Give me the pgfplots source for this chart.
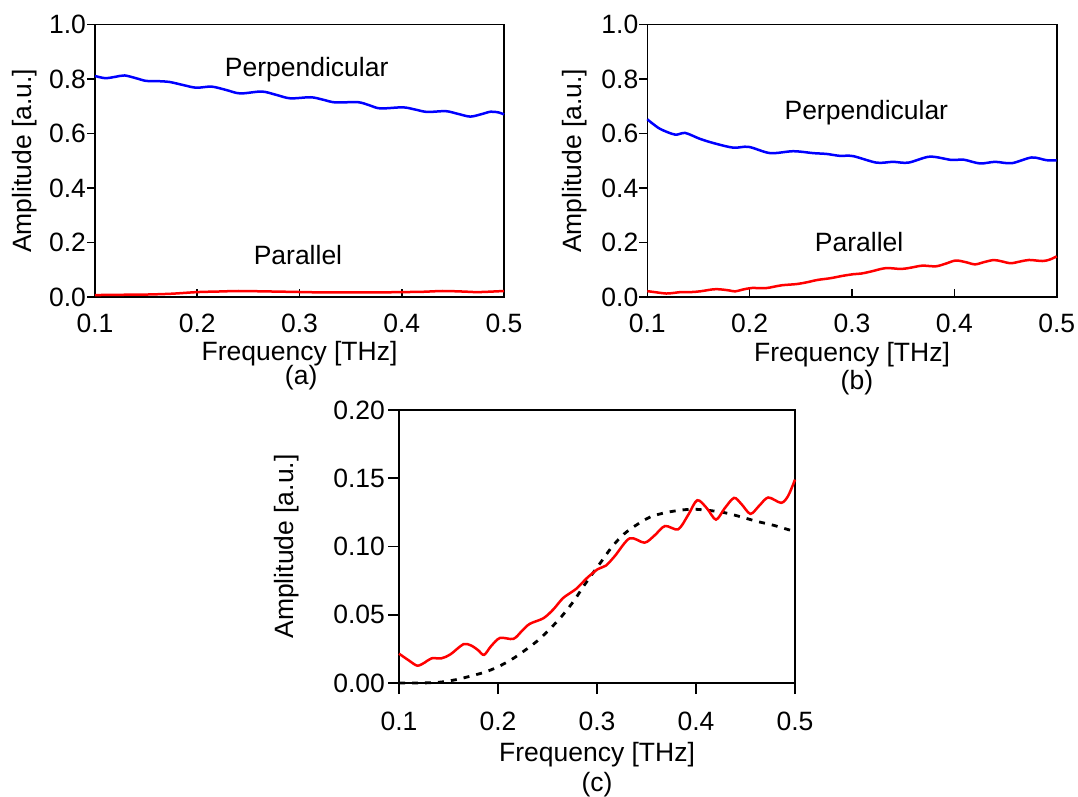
\documentclass[border=0pt]{standalone}
\usepackage{fontspec}
\setmainfont{Liberation Sans}
\usepackage{pgfplots}
\pgfplotsset{compat=1.18}
\pgfplotsset{
  basestyle/.style={
    scale only axis, anchor=south west, clip=false,
    xmin=0.1, xmax=0.5,
    xtick={0.1,0.2,0.3,0.4,0.5},
    tick pos=left,
    /pgf/number format/assume math mode=true,
    axis line style={line width=1.6pt},
    every tick/.style={black, line width=1.6pt},
    xticklabel style={/pgf/number format/fixed, /pgf/number format/fixed zerofill, /pgf/number format/precision=1},
    xlabel={Frequency [THz]},
    ylabel={Amplitude [a.u.]},
  },
  upperstyle/.style={
    basestyle, width=409pt, height=272.5pt,
    ymin=0, ymax=1, ytick={0,0.2,0.4,0.6,0.8,1.0},
    yticklabel style={/pgf/number format/fixed, /pgf/number format/fixed zerofill, /pgf/number format/precision=1},
    tick align=inside, major tick length=8pt,
    ytick style={xshift=-8pt},
    xticklabel style={yshift=-8pt},
  },
}
\begin{document}
\fontsize{26.5pt}{31pt}\selectfont
\begin{tikzpicture}
\useasboundingbox (0pt,0pt) rectangle (1078pt,797pt);

% (a)
\begin{axis}[upperstyle, at={(95pt,500pt)},
  every axis x label/.style={at={(axis description cs:0.5,-0.207)}, anchor=center},
  every axis y label/.style={at={(axis description cs:-0.172,0.5)}, rotate=90, anchor=center},
]
\addplot[blue, line width=2.5pt, smooth] coordinates {
(0.100,0.811) (0.110,0.803) (0.120,0.808) (0.129,0.813) (0.140,0.803) (0.150,0.793)
(0.162,0.792) (0.173,0.789) (0.186,0.778) (0.199,0.768) (0.214,0.772) (0.228,0.760)
(0.242,0.747) (0.263,0.754) (0.277,0.742) (0.291,0.729) (0.311,0.733) (0.323,0.724)
(0.335,0.714) (0.357,0.715) (0.368,0.704) (0.379,0.692) (0.401,0.696) (0.413,0.688)
(0.425,0.679) (0.443,0.682) (0.455,0.672) (0.467,0.662) (0.478,0.671) (0.487,0.680)
(0.495,0.677) (0.500,0.670)};
\addplot[red, line width=2.5pt, smooth] coordinates {
(0.100,0.007) (0.120,0.008) (0.150,0.009) (0.175,0.012) (0.200,0.018) (0.220,0.020)
(0.240,0.022) (0.260,0.021) (0.290,0.019) (0.320,0.017) (0.350,0.017) (0.380,0.017)
(0.400,0.018) (0.420,0.019) (0.440,0.022) (0.460,0.020) (0.475,0.018) (0.500,0.022)};
\node at (axis cs:0.307,0.835) {Perpendicular};
\node at (axis cs:0.2985,0.154) {Parallel};
\node at (axis description cs:0.504,-0.295) {(a)};
\end{axis}

% (b)
\begin{axis}[upperstyle, at={(647.3pt,500pt)}, width=409.4pt,
  every axis x label/.style={at={(axis description cs:0.5,-0.213)}, anchor=center},
  every axis y label/.style={at={(axis description cs:-0.177,0.5)}, rotate=90, anchor=center},
]
\addplot[blue, line width=2.5pt, smooth] coordinates {
(0.100,0.652) (0.112,0.618) (0.127,0.596) (0.137,0.602) (0.151,0.581) (0.1645,0.565)
(0.184,0.548) (0.199,0.551) (0.220,0.528) (0.2427,0.535) (0.262,0.528) (0.275,0.525)
(0.288,0.518) (0.301,0.517) (0.324,0.493) (0.340,0.496) (0.355,0.493) (0.376,0.515)
(0.397,0.503) (0.409,0.504) (0.425,0.490) (0.4397,0.496) (0.456,0.491) (0.4756,0.512)
(0.490,0.502) (0.500,0.501)};
\addplot[red, line width=2.5pt, smooth] coordinates {
(0.100,0.0215) (0.110,0.0165) (0.1185,0.0127) (0.126,0.015) (0.133,0.0181) (0.143,0.0181)
(0.152,0.021) (0.165,0.0284) (0.173,0.0274) (0.180,0.024) (0.1859,0.0206) (0.193,0.027)
(0.202,0.033) (0.2155,0.0323) (0.224,0.038) (0.232,0.0433) (0.246,0.0475) (0.256,0.054)
(0.266,0.0624) (0.279,0.069) (0.290,0.077) (0.301,0.0835) (0.309,0.086) (0.318,0.093)
(0.333,0.106) (0.348,0.1028) (0.358,0.108) (0.3687,0.115) (0.382,0.1126) (0.392,0.123)
(0.4013,0.1339) (0.411,0.128) (0.4202,0.1197) (0.429,0.128) (0.4384,0.1356) (0.446,0.131)
(0.455,0.1239) (0.464,0.130) (0.473,0.1359) (0.486,0.132) (0.493,0.137) (0.500,0.149)};
\node at (axis cs:0.314,0.675) {Perpendicular};
\node at (axis cs:0.307,0.202) {Parallel};
\node at (axis description cs:0.512,-0.314) {(b)};
\end{axis}

% (c)
\begin{axis}[basestyle, at={(399pt,114pt)}, width=396pt, height=273pt,
  ymin=0, ymax=0.2, ytick={0,0.05,0.1,0.15,0.2},
  yticklabel style={/pgf/number format/fixed, /pgf/number format/fixed zerofill, /pgf/number format/precision=2, xshift=6pt},
  xticklabel style={yshift=-9pt},
  tick align=outside, major tick length=11pt,
  every axis x label/.style={at={(axis description cs:0.5,-0.264)}, anchor=center},
  every axis y label/.style={at={(axis description cs:-0.283,0.5)}, rotate=90, anchor=center},
]
\addplot[black, line width=2.8pt, dash pattern=on 6pt off 7pt, smooth] coordinates {
(0.100,0.000) (0.120,0.000) (0.140,0.0005) (0.158,0.0025) (0.172,0.005) (0.186,0.0078)
(0.199,0.0115) (0.213,0.0169) (0.226,0.0233) (0.240,0.031) (0.253,0.040) (0.265,0.0494)
(0.277,0.0605) (0.287,0.0715) (0.304,0.0886) (0.315,0.0996) (0.327,0.109) (0.342,0.1168)
(0.355,0.122) (0.370,0.1249) (0.384,0.1266) (0.397,0.1273) (0.411,0.1266) (0.428,0.1249)
(0.444,0.122) (0.461,0.1185) (0.478,0.1156) (0.493,0.1124) (0.500,0.111)};
\addplot[red, line width=2.5pt, smooth] coordinates {
(0.100,0.0215) (0.110,0.0165) (0.1185,0.0127) (0.126,0.015) (0.133,0.0181) (0.143,0.0181)
(0.152,0.021) (0.165,0.0284) (0.173,0.0274) (0.180,0.024) (0.1859,0.0206) (0.193,0.027)
(0.202,0.033) (0.2155,0.0323) (0.224,0.038) (0.232,0.0433) (0.246,0.0475) (0.256,0.054)
(0.266,0.0624) (0.279,0.069) (0.290,0.077) (0.301,0.0835) (0.309,0.086) (0.318,0.093)
(0.333,0.106) (0.348,0.1028) (0.358,0.108) (0.3687,0.115) (0.382,0.1126) (0.392,0.123)
(0.4013,0.1339) (0.411,0.128) (0.4202,0.1197) (0.429,0.128) (0.4384,0.1356) (0.446,0.131)
(0.455,0.1239) (0.464,0.130) (0.473,0.1359) (0.486,0.132) (0.493,0.137) (0.500,0.149)};
\node at (axis description cs:0.5,-0.374) {(c)};
\end{axis}
\end{tikzpicture}
\end{document}
